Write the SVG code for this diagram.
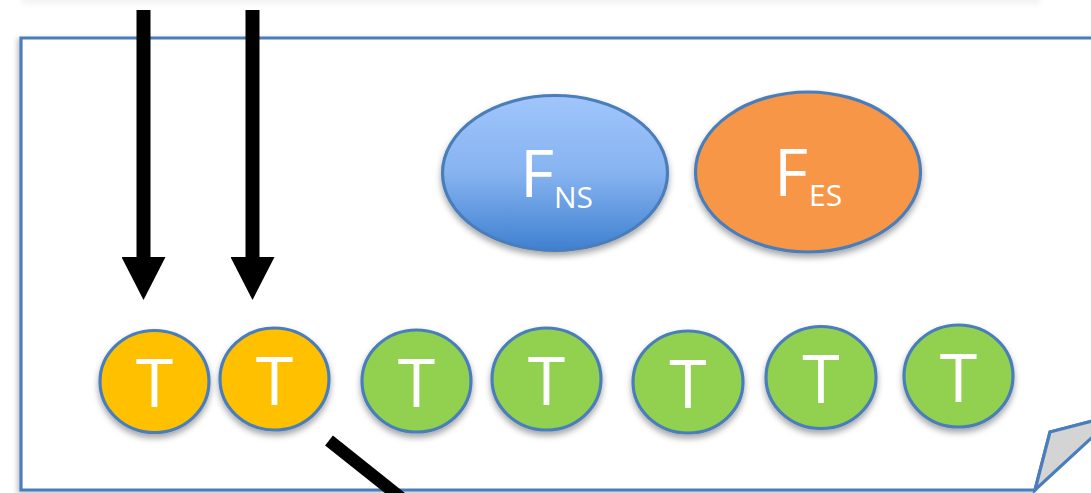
<svg xmlns="http://www.w3.org/2000/svg" width="1091" height="493" viewBox="0 0 1091 493">
<defs>
<filter id="sh" x="-20%" y="-20%" width="140%" height="150%">
<feDropShadow dx="0" dy="4" stdDeviation="3" flood-color="#000" flood-opacity="0.35"/>
</filter>
<filter id="sh2" x="-5%" y="-5%" width="110%" height="120%">
<feDropShadow dx="-2" dy="2" stdDeviation="2.5" flood-color="#000" flood-opacity="0.25"/>
</filter>
<linearGradient id="gNS" x1="0" y1="0" x2="0" y2="1">
<stop offset="0" stop-color="#a0c5fc"/>
<stop offset="0.5" stop-color="#86b3f0"/>
<stop offset="1" stop-color="#3f80d0"/>
</linearGradient>
<marker id="ah" viewBox="0 0 43 44" refX="0" refY="22" markerWidth="43" markerHeight="44" markerUnits="userSpaceOnUse" orient="auto">
<path d="M0,0 L43,22 L0,44 Z" fill="#000"/>
</marker>
</defs>
<style>
.node{stroke:#4a7ebb;stroke-width:3.2;filter:url(#sh)}
.or{fill:#ffc000}
.gr{fill:#92d050}
.t{font-family:"Open Sans","Liberation Sans",sans-serif;fill:#fff;font-size:68px;text-anchor:middle}
.f{font-family:"Open Sans","Liberation Sans",sans-serif;fill:#fff}
</style>
<rect width="1091" height="493" fill="#fff"/>
<rect x="22" y="-40" width="1018" height="40" fill="#fff" filter="url(#sh)" opacity="0.15"/>
<g id="frame">
<path d="M1100,38 H21 V490 H1035 L1050,432 L1100,419" fill="#fff" stroke="#4a7ebb" stroke-width="3.2" filter="url(#sh2)"/>
<path d="M1035,490 L1050,432 L1100,419 L1100,430 Z" fill="#d4d4d4" stroke="#4a7ebb" stroke-width="3.2" stroke-linejoin="miter"/>
</g>
<g id="connectors">
<line x1="143.5" y1="10" x2="143.5" y2="257" stroke="#000" stroke-width="14" marker-end="url(#ah)"/>
<line x1="252.5" y1="10" x2="252.5" y2="257" stroke="#000" stroke-width="14" marker-end="url(#ah)"/>
<line x1="329" y1="440.5" x2="420" y2="513" stroke="#000" stroke-width="12.5"/>
</g>
<g id="fns">
<ellipse class="node" cx="555" cy="173" rx="112.5" ry="77.5" fill="url(#gNS)"/>
<text class="f" x="520" y="197" font-size="66">F</text>
<text class="f" x="554" y="208" font-size="30">NS</text>
</g>
<g id="fes">
<ellipse class="node" cx="808" cy="172" rx="112.5" ry="80" fill="#f79646"/>
<text class="f" x="774" y="196" font-size="66">F</text>
<text class="f" x="809" y="206" font-size="30">ES</text>
</g>
<g id="t1"><ellipse class="node or" cx="154.5" cy="381.5" rx="54.5" ry="51"/><text class="t" x="154.5" y="407">T</text></g>
<g id="t2"><ellipse class="node or" cx="274.5" cy="379" rx="54.5" ry="51"/><text class="t" x="274.5" y="404.5">T</text></g>
<g id="t3"><ellipse class="node gr" cx="416.5" cy="381" rx="54.5" ry="51"/><text class="t" x="416.5" y="406.5">T</text></g>
<g id="t4"><ellipse class="node gr" cx="546.5" cy="379" rx="54.5" ry="51"/><text class="t" x="546.5" y="404.5">T</text></g>
<g id="t5"><ellipse class="node gr" cx="688" cy="382" rx="55" ry="51"/><text class="t" x="688" y="407.5">T</text></g>
<g id="t6"><ellipse class="node gr" cx="821" cy="377.5" rx="55" ry="51"/><text class="t" x="821" y="403">T</text></g>
<g id="t7"><ellipse class="node gr" cx="958.5" cy="376" rx="54.5" ry="51"/><text class="t" x="958.5" y="401.5">T</text></g>
</svg>
